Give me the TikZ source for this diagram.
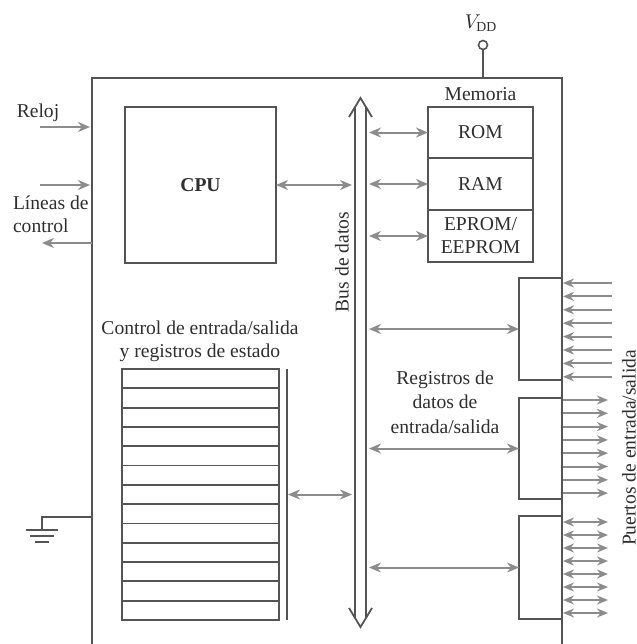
\documentclass[tikz,border=0pt]{standalone}
\usepackage{fontspec}
\setmainfont{Liberation Serif}
\usetikzlibrary{calc,arrows.meta}
\definecolor{boxgray}{gray}{0.33}
\definecolor{arrgray}{gray}{0.55}
\definecolor{txtgray}{gray}{0.18}
\begin{document}
\begin{tikzpicture}[x=0.5pt,y=-0.5pt,every node/.style={outer sep=0pt,text=txtgray,font=\fontsize{9.8}{11.5}\selectfont}]

	\tikzstyle{box}=[draw=boxgray,line width=0.9pt,inner sep=0pt]
	\tikzstyle{wire}=[draw=boxgray,line width=0.9pt]
	\tikzstyle{sig}=[draw=arrgray,line width=1pt,-{Stealth[length=6pt,width=5pt]}]
	\tikzstyle{bisig}=[draw=arrgray,line width=1pt,{Stealth[length=6pt,width=5pt]}-{Stealth[length=6pt,width=5pt]}]
	\tikzstyle{pin}=[draw=arrgray,line width=1pt,-{Stealth[length=5.5pt,width=4.5pt]}]
	\tikzstyle{bipin}=[draw=arrgray,line width=1pt,{Stealth[length=5.5pt,width=4.5pt]}-{Stealth[length=5.5pt,width=4.5pt]}]

	\useasboundingbox (0,0) rectangle (637,644);

	% chip outline, open at the bottom
	\coordinate (chipSW) at (92,644);
	\coordinate (chipNW) at (92,78);
	\coordinate (chipNE) at (562,78);
	\coordinate (chipSE) at (562,644);
	\draw [wire] (chipSW) -- (chipNW) -- (chipNE) -- (chipSE);

	\node (vddpin) at (483,45) [circle,draw=boxgray,line width=0.8pt,minimum size=4.5pt,inner sep=0pt] {};
	\node (vdd) at (481,23) {$V_{\mathrm{DD}}$};
	\draw [wire] (vddpin) -- (vddpin |- chipNE);

	\node (cpu) at (200.5,185) [box,minimum width=75.5pt,minimum height=78pt,font=\fontsize{9.8}{11.5}\selectfont\bfseries] {CPU};

	% data bus
	\coordinate (busN) at (360.5,98);
	\coordinate (busS) at (360.5,627);
	\coordinate (busL) at (352,0);
	\coordinate (busR) at (369,0);
	\draw [wire] (busN) ++(-11.5,19) -- (busN) -- ++(11.5,19);
	\draw [wire] (busS) ++(-11.5,-19) -- (busS) -- ++(11.5,-19);
	\draw [wire] ($(busN)+(-5.5,9)$) -- ($(busS)+(-5.5,-9)$);
	\draw [wire] ($(busN)+(5.5,9)$) -- ($(busS)+(5.5,-9)$);
	\node (buslbl) at (342,262) [rotate=90] {Bus de datos};

	\draw [bisig] (cpu.east) -- (cpu.east -| busL);

	% memory
	\node (rom) at (480.5,132.5) [box,minimum width=52.5pt,minimum height=25.5pt] {ROM};
	\node (ram) at (rom.south) [box,anchor=north,minimum width=52.5pt,minimum height=26pt] {RAM};
	\node (eprom) at (ram.south) [box,anchor=north,minimum width=52.5pt,minimum height=26pt,align=center] {EPROM/\\EEPROM};
	\node (memlbl) at (rom.north) [above=0pt] {Memoria};
	\foreach \m in {rom,ram,eprom}
		\draw [bisig] (\m.west -| busR) -- (\m.west);

	% I/O ports
	\node (port1) at (540.5,329) [box,minimum width=21.5pt,minimum height=51pt] {};
	\node (port2) at (540.5,448.5) [box,minimum width=21.5pt,minimum height=50.5pt] {};
	\node (port3) at (540.5,567.5) [box,minimum width=21.5pt,minimum height=51.5pt] {};
	\foreach \p in {port1,port2,port3}
		\draw [bisig] (\p.west -| busR) -- (\p.west);

	\foreach \i in {0,...,7} {
		\draw [pin] ($(port1.north east)+(50,{5+\i*13.4})$) -- ($(port1.north east)+(1,{5+\i*13.4})$);
		\draw [pin] ($(port2.north east)+(1,{2+\i*13.3})$) -- ($(port2.north east)+(46,{2+\i*13.3})$);
		\draw [bipin] ($(port3.north east)+(1,{6+\i*13})$) -- ($(port3.north east)+(46,{6+\i*13})$);
	}
	\node (portlbl) at (629,448) [rotate=90] {Puertos de entrada/salida};
	\node (datlbl) at (445,402) [align=center,font=\fontsize{9.8}{12.2}\selectfont] {Registros de\\datos de\\entrada/salida};

	% control and status registers
	\node (regs) at (200.5,494.5) [box,minimum width=78.5pt,minimum height=125.5pt] {};
	\foreach \i in {1,...,12}
		\draw [wire] ($(regs.north west)!\i/13!(regs.south west)$) -- ($(regs.north east)!\i/13!(regs.south east)$);
	\draw [wire] ([xshift=4pt]regs.north east) -- ([xshift=4pt]regs.south east);
	\coordinate (regbus) at ([xshift=4.5pt]regs.east);
	\draw [bisig] (regbus) -- (regbus -| busL);
	\node (reglbl) at (200,341) [align=center] {Control de entrada/salida\\y registros de estado};

	% external lines
	\node (clklbl) at (38,113) {Reloj};
	\coordinate (clksrc) at (40,127);
	\coordinate (clkin) at (90,127);
	\draw [sig] (clksrc) -- (clkin);

	\node (ctllbl) at (13,214) [anchor=west,inner sep=0pt,align=left] {Líneas de\\control};
	\coordinate (ctlsrc) at (40,185);
	\coordinate (ctlin) at (90,185);
	\draw [sig] (ctlsrc) -- (ctlin);
	\coordinate (ctlout) at (92,243);
	\coordinate (ctldst) at (42,243);
	\draw [sig] (ctlout) -- (ctldst);

	% ground
	\coordinate (gndtap) at (92,517);
	\coordinate (gnd) at (42,530);
	\draw [wire] (gndtap) -- (gndtap -| gnd) -- (gnd);
	\draw [wire] ($(gnd)+(-16,0)$) -- ($(gnd)+(16,0)$);
	\draw [wire] ($(gnd)+(-12,6)$) -- ($(gnd)+(12,6)$);
	\draw [wire] ($(gnd)+(-7,12)$) -- ($(gnd)+(7,12)$);

\end{tikzpicture}
\end{document}
